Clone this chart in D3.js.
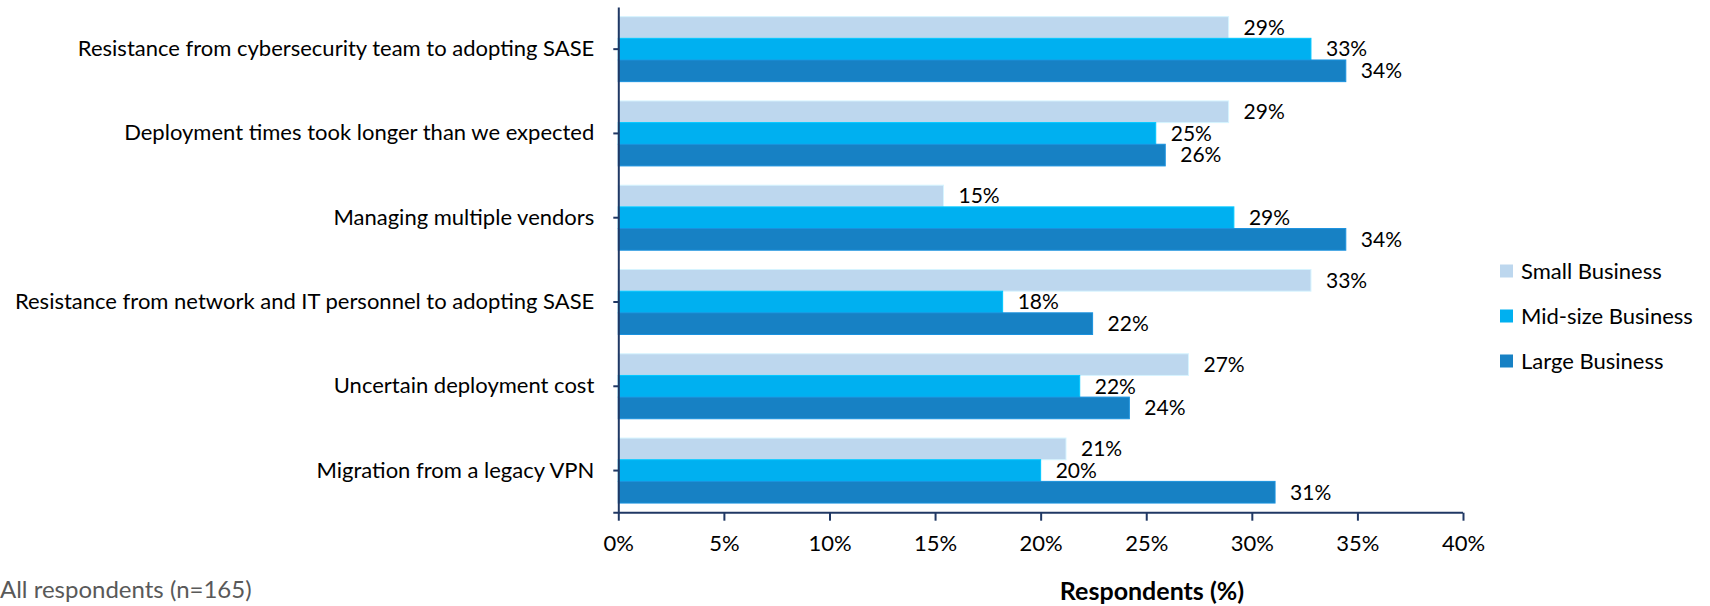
<!DOCTYPE html>
<html>
<head>
<meta charset="utf-8">
<script src="https://cdn.jsdelivr.net/npm/d3@7"></script>
<style>
  html, body { margin: 0; padding: 0; background: #ffffff; }
  svg { display: block; }
  text { font-family: Lato, "Open Sans", sans-serif; }
</style>
</head>
<body>
<svg id="chart" width="1710" height="606"></svg>
<script>
const categories = [
  "Resistance from cybersecurity team to adopting SASE",
  "Deployment times took longer than we expected",
  "Managing multiple vendors",
  "Resistance from network and IT personnel to adopting SASE",
  "Uncertain deployment cost",
  "Migration from a legacy VPN"
];
const seriesNames = ["Small Business", "Mid-size Business", "Large Business"];
const smallBusiness = [28.9, 28.9, 15.4, 32.8, 27.0, 21.2];
const midBusiness   = [32.8, 25.45, 29.15, 18.2, 21.85, 20.0];
const largeBusiness = [34.45, 25.9, 34.45, 22.46, 24.2, 31.1];
const xTickValues = [0, 5, 10, 15, 20, 25, 30, 35, 40];
const xAxisTitle = "Respondents (%)";
const footnote = "All respondents (n=165)";

const colors = ["#BDD7EE", "#00B0F0", "#1781C4"];
const axisColor = "#203864";
const fontSize = 22;

const seriesValues = [smallBusiness, midBusiness, largeBusiness];
const rows = categories.map((c, i) => ({
  category: c,
  values: seriesNames.map((s, k) => ({ series: s, k: k, value: seriesValues[k][i] }))
}));

const svg = d3.select("#chart");

const x = d3.scaleLinear().domain([0, 40]).range([618.3, 1463]);
const y = d3.scaleBand().domain(categories).range([7, 512.7])
  .paddingInner(0.229).paddingOuter(0.1145);
const ySub = d3.scaleBand().domain(seriesNames).range([0, y.bandwidth()]);
const color = d3.scaleOrdinal().domain(seriesNames).range(colors);

// bars
const groups = svg.append("g").selectAll("g").data(rows).join("g")
  .attr("transform", d => `translate(0,${y(d.category)})`);

groups.selectAll("rect").data(d => d.values).join("rect")
  .attr("x", x(0))
  .attr("y", d => ySub(d.series))
  .attr("width", d => x(d.value) - x(0))
  .attr("height", ySub.bandwidth())
  .attr("fill", d => color(d.series))
  .attr("stroke", d => d3.color(color(d.series)).brighter(0.35))
  .attr("stroke-width", 1);

// data labels
const fmt = v => Math.round(v) + "%";
groups.selectAll("text.lbl").data(d => d.values).join("text")
  .attr("class", "lbl")
  .attr("x", d => x(d.value) + 15)
  .attr("y", d => ySub(d.series) + ySub.bandwidth() / 2)
  .attr("dy", "0.35em")
  .attr("font-size", 21)
  .attr("fill", "#000")
  .text(d => fmt(d.value));

// x axis
const xAxis = svg.append("g")
  .attr("transform", `translate(0,${y.range()[1]})`)
  .call(d3.axisBottom(x).tickValues(xTickValues).tickFormat(d => d + "%").tickSize(8).tickSizeOuter(0).tickPadding(15));
xAxis.select(".domain").attr("stroke", axisColor).attr("stroke-width", 2)
  .attr("d", `M${x(0) - 5},0H${x(40)}`);
xAxis.selectAll(".tick line").attr("stroke", axisColor).attr("stroke-width", 2);
xAxis.selectAll(".tick text").attr("font-size", fontSize).attr("fill", "#000")
  .attr("font-family", "Lato, sans-serif");

// y axis
const yAxis = svg.append("g")
  .attr("transform", `translate(${x(0)},0)`)
  .call(d3.axisLeft(y).tickSize(5).tickSizeOuter(0).tickPadding(19));
yAxis.select(".domain").attr("stroke", axisColor).attr("stroke-width", 2);
yAxis.selectAll(".tick line").attr("stroke", axisColor).attr("stroke-width", 2);
yAxis.selectAll(".tick text").attr("font-size", fontSize).attr("fill", "#000")
  .attr("font-family", "Lato, sans-serif");

// legend
const legend = svg.append("g").selectAll("g").data(seriesNames).join("g")
  .attr("transform", (d, i) => `translate(1500,${271 + i * 45})`);
legend.append("rect")
  .attr("x", 0).attr("y", -6.5).attr("width", 13).attr("height", 13)
  .attr("fill", d => color(d));
legend.append("text")
  .attr("x", 21).attr("y", 0).attr("dy", "0.35em")
  .attr("font-size", fontSize).attr("fill", "#000")
  .text(d => d);

// axis title
svg.append("text")
  .attr("x", 1152).attr("y", 600)
  .attr("text-anchor", "middle")
  .attr("font-size", 25).attr("font-weight", "bold").attr("fill", "#000")
  .text(xAxisTitle);

// footnote
svg.append("text")
  .attr("x", 0).attr("y", 598)
  .attr("font-size", 24).attr("fill", "#595959")
  .text(footnote);
</script>
</body>
</html>
